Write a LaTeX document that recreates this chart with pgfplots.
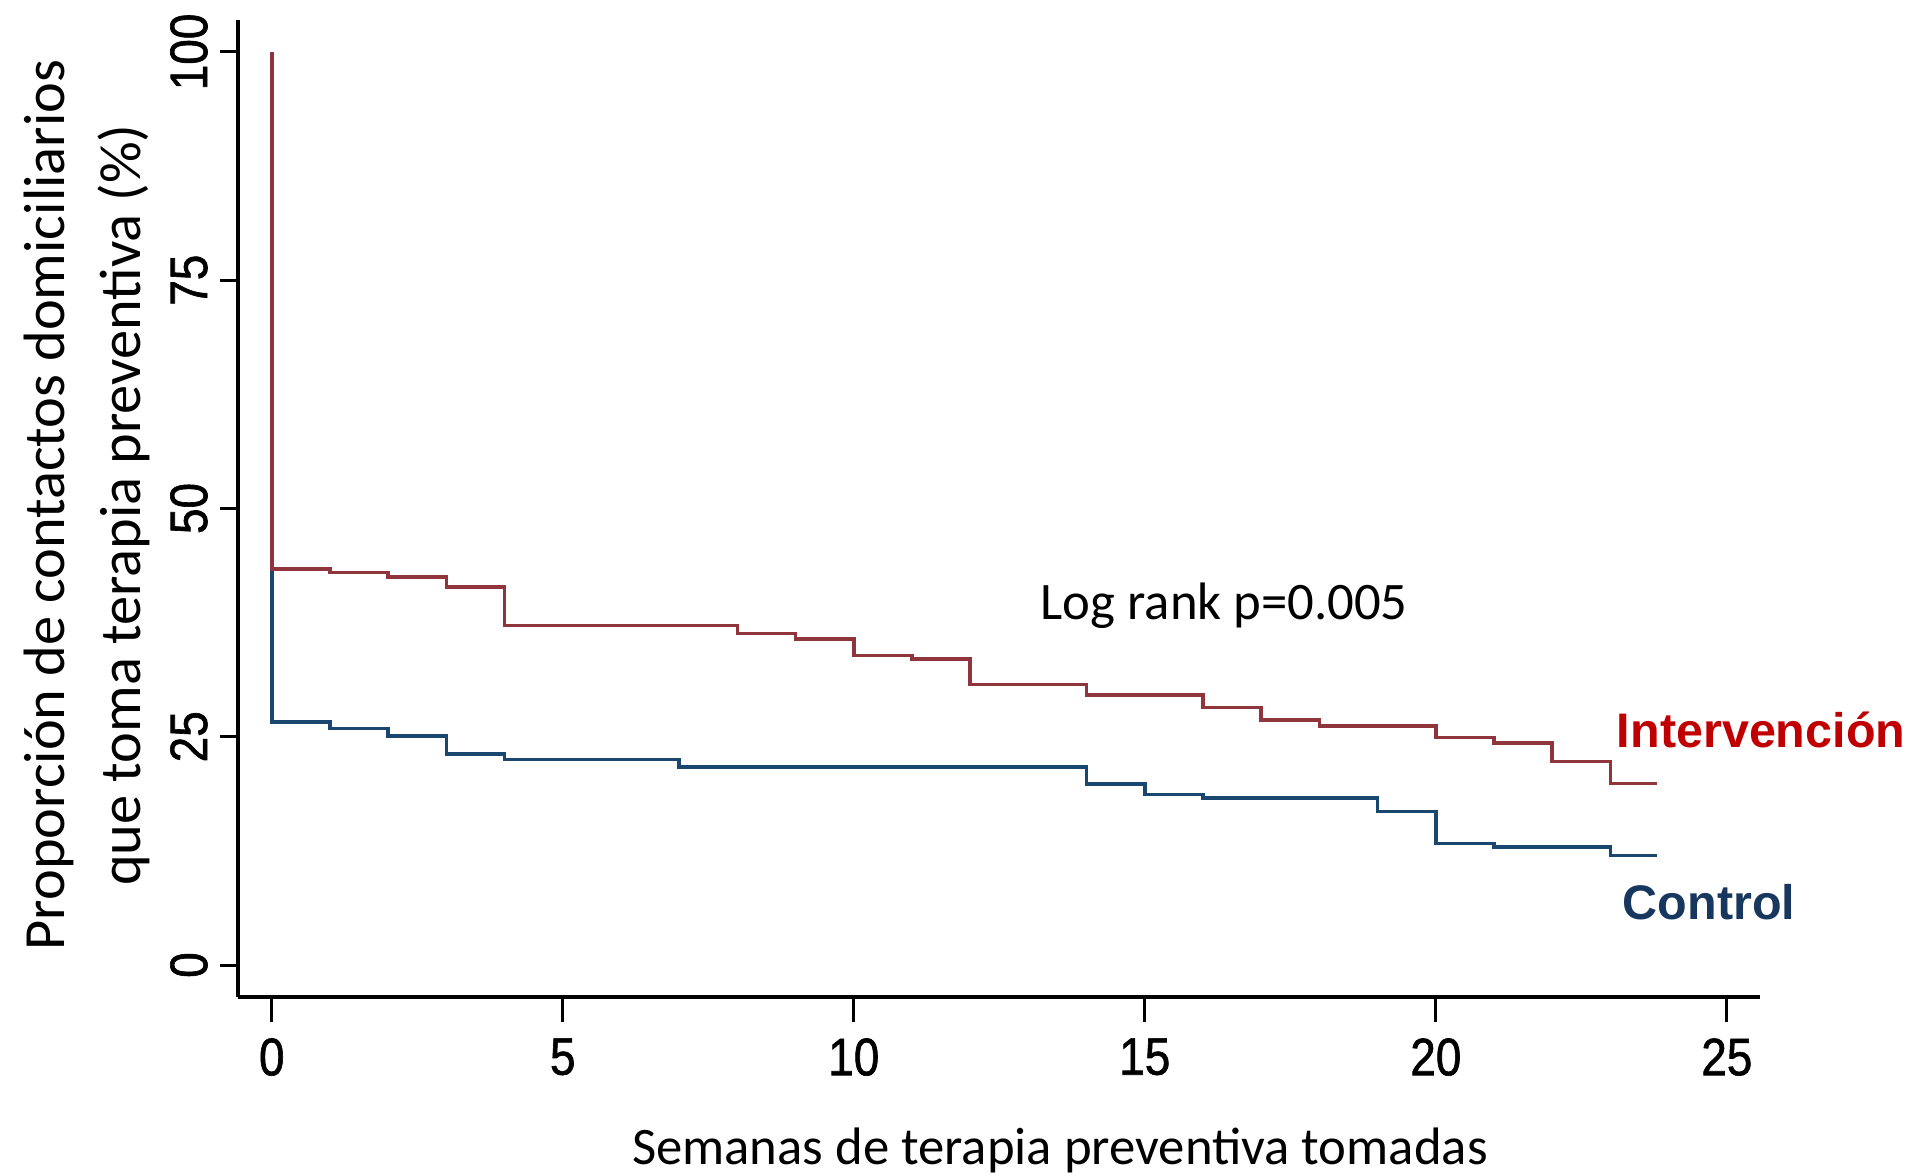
\documentclass[border=0pt]{standalone}
\usepackage{fontspec}
\setmainfont{Carlito}
\newfontfamily\arialfont{Liberation Sans}
\newfontfamily\tickfont[FakeStretch=0.87,FakeBold=1.2]{Liberation Sans}
\usepackage{pgfplots}
\pgfplotsset{compat=1.18}
\definecolor{statamaroon}{RGB}{144,53,59}
\definecolor{statanavy}{RGB}{26,71,111}
\definecolor{labred}{RGB}{192,0,0}
\definecolor{labnavy}{RGB}{23,55,94}
\begin{document}
\begin{tikzpicture}
\begin{axis}[
  at={(23.8mm,17.8mm)}, anchor=south west,
  scale only axis, width=152.2mm, height=97.7mm,
  xmin=-0.58, xmax=25.57, ymin=-3.5, ymax=103.5,
  axis x line*=bottom, axis y line*=left,
  axis line style={-, line width=1.1pt, black},
  xtick={0,5,...,25}, ytick={0,25,50,75,100},
  tick align=outside, major tick length=1.8mm,
  tick style={line width=0.85pt, black},
  xtick style={/pgfplots/major tick length=2.5mm},
  /pgf/number format/assume math mode=true,
  ticklabel style={font=\tickfont\fontsize{15}{16}\selectfont},
  yticklabel style={rotate=90, anchor=south},
  xticklabel style={anchor=north, yshift=-1.1mm},
  xlabel={Semanas de terapia preventiva tomadas},
  ylabel={Proporción de contactos domiciliarios\\que toma terapia preventiva (\%)},
  xlabel style={font=\fontsize{15}{21.5}\selectfont, at={(axis description cs:0.540,-0.1566)}, anchor=center},
  ylabel style={font=\fontsize{16.6}{21.6}\selectfont, at={(axis description cs:-0.0992,0.5036)}, anchor=center, align=center},
  clip=false,
]
\addplot[const plot, statanavy, line width=1.0pt] coordinates {
(0,43.4) (0,26.6) (1,25.9) (2,25.1) (3,23.1) (4,22.5) (7,21.7) (14,19.8) (15,18.7) (16,18.3) (19,16.8) (20,13.3) (21,12.9) (23,12.0) (23.8,12.0)
};
\addplot[const plot, statamaroon, line width=1.0pt] coordinates {
(0,100) (0,43.4) (1,43.0) (2,42.5) (3,41.4) (4,37.2) (8,36.3) (9,35.7) (10,33.9) (11,33.5) (12,30.7) (14,29.6) (16,28.2) (17,26.85) (18,26.2) (20,24.9) (21,24.3) (22,22.3) (23,19.9) (23.8,19.9)
};
\node[anchor=base west, inner sep=0pt, font=\fontsize{15}{18}\selectfont] at (axis cs:13.2,37.8) {Log rank p=0.005};
\node[anchor=base west, inner sep=0pt, font=\arialfont\bfseries\fontsize{13.8}{16}\selectfont, text=labred] at (axis cs:23.1,23.8) {Intervención};
\node[anchor=base west, inner sep=0pt, font=\arialfont\bfseries\fontsize{13.8}{16}\selectfont, text=labnavy] at (axis cs:23.2,5.0) {Control};
\end{axis}
\pgfresetboundingbox
\path[use as bounding box] (0,0) rectangle (191.7mm,117.5mm);
\end{tikzpicture}
\end{document}
